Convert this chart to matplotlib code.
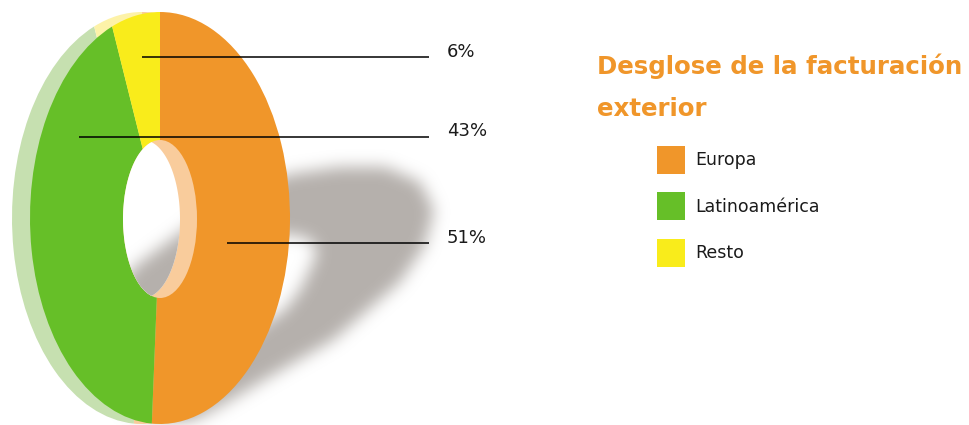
import numpy as np
import matplotlib
matplotlib.use("Agg")
import matplotlib.pyplot as plt
from matplotlib.path import Path
from matplotlib.patches import Ellipse, Polygon

categories = ["Europa", "Latinoamérica", "Resto"]
values = [51, 43, 6]
pct_labels = ["6%", "43%", "51%"]
colors = ["#F0962A", "#66BF28", "#F9EC1B"]
light_colors = ["#F9CC9C", "#C6E0B0", "#FDF2A8"]
title = "Desglose de la facturación\nexterior"

W, H = 970, 425
fig = plt.figure(figsize=(W / 100, H / 100), dpi=100, facecolor="white")


def pix_axes(x0, y0, x1, y1, z):
    a = fig.add_axes([x0 / W, 1 - y1 / H, (x1 - x0) / W, (y1 - y0) / H], zorder=z)
    return a


# --- blurred drop shadow -------------------------------------------------
outer = [(118, 290), (133, 268), (180, 233), (230, 195), (290, 174), (340, 167), (385, 167), (420, 182),
         (434, 210), (425, 245), (400, 282), (333, 340), (267, 378), (217, 408), (180, 428), (125, 410)]
inner = [(285, 234), (308, 238), (317, 250), (312, 265), (300, 290), (285, 310), (240, 340),
         (215, 320), (220, 270), (250, 240)]
yy, xx = np.mgrid[0:H, 0:W]
pts = np.c_[xx.ravel() + .5, yy.ravel() + .5]
mask = (Path(outer).contains_points(pts) & ~Path(inner).contains_points(pts)).reshape(H, W).astype(float)
r = 7
kern = np.ones(2 * r + 1) / (2 * r + 1)
for _ in range(3):
    mask = np.apply_along_axis(lambda m: np.convolve(m, kern, mode="same"), 0, mask)
    mask = np.apply_along_axis(lambda m: np.convolve(m, kern, mode="same"), 1, mask)
rgba = np.zeros((H, W, 4))
rgba[..., :3] = np.array([0xB5, 0xB0, 0xAC]) / 255
rgba[..., 3] = mask

bg = pix_axes(0, 0, W, H, 0)
bg.set_xlim(0, W); bg.set_ylim(H, 0); bg.axis("off")
bg.imshow(rgba, extent=(0, W, H, 0), aspect="auto", interpolation="bilinear")

# --- back (pale) and front donut faces ------------------------------------
for (dx, cols, z) in [(-18, light_colors, 1), (0, colors, 2)]:
    a = pix_axes(30 + dx, 12, 290 + dx, 424, z)
    a.pie(values, colors=cols, startangle=90, counterclock=False, radius=1)
    a.set_xlim(-1, 1); a.set_ylim(-1, 1); a.set_aspect("auto")

# --- overlay: hole, leader lines, texts -----------------------------------
ov = pix_axes(0, 0, W, H, 3)
ov.set_xlim(0, W); ov.set_ylim(H, 0); ov.axis("off"); ov.patch.set_alpha(0)

hc, hy, hrx, hry = 160, 219, 37, 79
ov.add_patch(Ellipse((hc, hy), 2 * hrx, 2 * hry, fc=light_colors[0], ec="none", zorder=1))
t = np.linspace(0, 2 * np.pi, 400)
ea = np.c_[hc + hrx * np.cos(t), hy + hry * np.sin(t)]
eb = np.c_[hc - 17 + hrx * np.cos(t), hy + hry * np.sin(t)]
ina = ((eb[:, 0] - hc) / hrx) ** 2 + ((eb[:, 1] - hy) / hry) ** 2 < 1
inb = ((ea[:, 0] - hc + 17) / hrx) ** 2 + ((ea[:, 1] - hy) / hry) ** 2 < 1
lens = np.vstack([eb[ina], ea[inb]])
ang = np.arctan2((lens[:, 1] - hy) / hry, lens[:, 0] - (hc - 8.5))
lens = lens[np.argsort(ang)]
lp = Polygon(lens, closed=True, fc="white", ec="none", zorder=1.1)
ov.add_patch(lp)
im = ov.imshow(rgba, extent=(0, W, H, 0), aspect="auto", interpolation="bilinear", zorder=1.2)
im.set_clip_path(lp)
ov.set_xlim(0, W); ov.set_ylim(H, 0)

line_y = [57, 137, 243]
line_x0 = [142, 79, 227]
label_y = [52, 131, 238]
for y, x0, ly, s in zip(line_y, line_x0, label_y, pct_labels):
    ov.plot([x0, 429], [y, y], color="black", lw=1.1, solid_capstyle="butt", zorder=3)
    ov.text(447, ly, s, fontsize=13, color="#1a1a1a", va="center", ha="left", family="DejaVu Sans")

ov.text(597, 53, title, fontsize=17.65, fontweight="bold", color=colors[0], family="DejaVu Sans",
        va="top", ha="left", linespacing=1.98)

handles = [plt.Rectangle((0, 0), 1, 1, fc=c, ec="none") for c in colors]
fs = 12.5
ov.legend(handles, categories, loc="upper left", bbox_to_anchor=(657, 146), bbox_transform=ov.transData,
          frameon=False, fontsize=fs, borderpad=0, borderaxespad=0, handlelength=20.16 / fs,
          handleheight=(21.6 + 0.35 * fs) / fs, labelspacing=13.5 / fs, handletextpad=7.2 / fs, labelcolor="#1a1a1a")

fig.savefig("out.png", dpi=100, facecolor="white")
